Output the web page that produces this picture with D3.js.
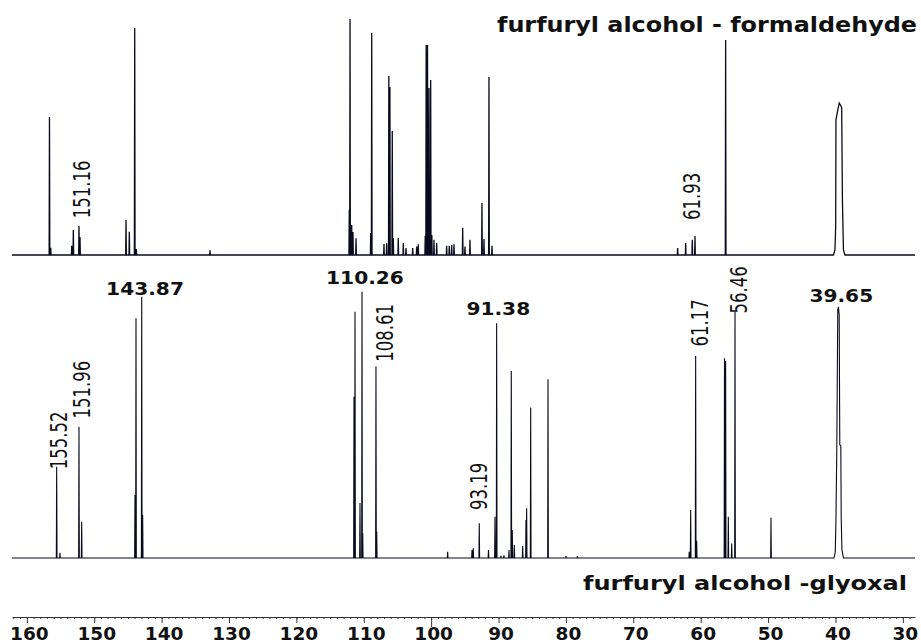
<!DOCTYPE html>
<html><head><meta charset="utf-8">
<script src="https://cdn.jsdelivr.net/npm/d3@7"></script>
<style>html,body{margin:0;padding:0;background:#fff;} svg{display:block;}</style>
</head><body>
<svg id="chart" width="921" height="644"></svg>
<script>
// ---------------- data ----------------
const ppmDomain = [162.2, 28.2];
const ppmTicks = [160, 150, 140, 130, 120, 110, 100, 90, 80, 70, 60, 50, 40, 30];

const topTitle = "furfuryl alcohol - formaldehyde";
const bottomTitle = "furfuryl alcohol -glyoxal";

// [ppm, relative intensity] — furfuryl alcohol - formaldehyde
const formaldehydePeaks = [
  [156.64, 57.5], [156.45, 3], [153.34, 3.8], [153.10, 10.4], [152.26, 12.1], [152.11, 7.5],
  [145.28, 14.6], [144.79, 9.7], [143.99, 94.6], [143.75, 2.5], [132.82, 2],
  [112.15, 18.8], [112.04, 98.3], [111.79, 12.5], [111.60, 9.6], [111.15, 7],
  [108.97, 9.2], [108.82, 92.5], [107.00, 4.6], [106.60, 4.9], [106.28, 74.6], [106.12, 70],
  [105.77, 51.7], [105.62, 7.1], [104.88, 7.1], [104.13, 5], [103.73, 2.9], [102.74, 2.9],
  [102.15, 3.5], [101.91, 4.5],
  [100.88, 8], [100.74, 87.5], [100.54, 87.5], [100.32, 69.6], [100.07, 72.9], [99.90, 8.3],
  [99.58, 6.3], [99.18, 5],
  [97.70, 3.8], [97.31, 3.8], [96.95, 4.2], [96.61, 4.5], [95.32, 11.3], [94.98, 3.5],
  [94.24, 6.3], [92.46, 21.7], [92.16, 6.7], [91.42, 74.2], [90.97, 3.8],
  [63.42, 2.9], [62.23, 5], [61.25, 6.3], [60.85, 7.9], [56.30, 89.6]
];
// outline of the broad solvent peak
const formaldehydeBroad = [
  [40.30, 0], [40.08, 2.1], [39.97, 11.7], [39.93, 56.3], [39.74, 59.2], [39.44, 63.3],
  [39.19, 62.1], [39.08, 61.3], [38.97, 22.9], [38.82, 2.1], [38.59, 0]
];

// [ppm, relative intensity] — furfuryl alcohol - glyoxal
const glyoxalPeaks = [
  [155.57, 33.8], [155.08, 1.9], [152.26, 48.6], [151.86, 13.4],
  [143.95, 23.3], [143.80, 88.8], [142.95, 96.8], [142.81, 15.9],
  [111.45, 59.7], [111.30, 91.2], [110.56, 20.4], [110.26, 98.6], [110.16, 9.3],
  [108.19, 70.9], [108.08, 9.7],
  [97.55, 2.3], [93.94, 3], [93.75, 3.6], [92.86, 12.9], [91.49, 3], [90.53, 15.3],
  [90.28, 86.9], [89.64, 0.8], [89.20, 1], [88.45, 3], [88.11, 69.3], [87.96, 10.4],
  [87.66, 4.8], [86.42, 4.4], [85.93, 14.1], [85.83, 18.4], [85.23, 55.7], [82.66, 66.2],
  [80.00, 0.7], [78.30, 0.7],
  [61.70, 2.3], [61.49, 17.8], [60.75, 74.8], [60.60, 6.4], [56.47, 74], [56.30, 73],
  [55.90, 15.3], [55.40, 5.4], [54.91, 91.2], [49.57, 14.9]
];
const glyoxalBroad = [
  [40.22, 0], [40.03, 2.2], [39.93, 14.1], [39.81, 39.3], [39.66, 91.9], [39.56, 93],
  [39.45, 90], [39.36, 41.9], [39.21, 41.5], [39.15, 14.8], [39.04, 3], [38.82, 0]
];

// peak labels: text, anchor ppm, anchor level (relative intensity)
const formaldehydeLabels = [
  { text: "151.16", at: 151.86, level: 15.3 },
  { text: "61.93", at: 61.34, level: 14.6 }
];
const glyoxalVerticalLabels = [
  { text: "155.52", at: 155.33, level: 32.9 },
  { text: "151.96", at: 151.92, level: 51.7 },
  { text: "108.61", at: 106.97, level: 72.7 },
  { text: "93.19", at: 93.01, level: 17.8 },
  { text: "61.17", at: 60.11, level: 78.3 },
  { text: "56.46", at: 54.42, level: 90.6 }
];
const glyoxalHorizontalLabels = [
  { text: "143.87", at: 142.46, level: 97.4 },
  { text: "110.26", at: 109.82, level: 101.5 },
  { text: "91.38", at: 90.04, level: 90 },
  { text: "39.65", at: 39.14, level: 94.9 }
];

// ---------------- drawing ----------------
const svg = d3.select("#chart");
const FONT = "'DejaVu Sans', Verdana, sans-serif";

const x = d3.scaleLinear().domain(ppmDomain).range([12, 915]);
const yTop = d3.scaleLinear().domain([0, 100]).range([255, 15]);
const yBot = d3.scaleLinear().domain([0, 100]).range([558, 288]);

const HW = 0.05; // half width of a sharp line in ppm

function tracePoints(peaks, broad) {
  const pts = [[ppmDomain[0], 0], [ppmDomain[1], 0]];
  peaks.forEach(([p, h]) => { pts.push([p + HW, 0], [p, h], [p - HW, 0]); });
  broad.forEach(d => pts.push(d));
  pts.sort((a, b) => b[0] - a[0]);
  return pts;
}

function drawTrace(peaks, broad, y, width) {
  const line = d3.line().x(d => x(d[0])).y(d => y(d[1]));
  svg.append("path")
    .datum(tracePoints(peaks, broad))
    .attr("d", line)
    .attr("fill", "none")
    .attr("stroke", "#0a0a1e")
    .attr("stroke-width", width)
    .attr("stroke-linejoin", "miter");
}

drawTrace(formaldehydePeaks, formaldehydeBroad, yTop, 1.3);
drawTrace(glyoxalPeaks, glyoxalBroad, yBot, 1.1);

// vertical (rotated) labels
function vLabels(data, y) {
  svg.append("g").selectAll("text").data(data).join("text")
    .attr("transform", d => `translate(${x(d.at)},${y(d.level)}) scale(1.4,1) rotate(-90)`)
    .attr("dy", "0.36em")
    .attr("text-anchor", "start")
    .attr("font-family", FONT)
    .attr("font-size", 16.5)
    .attr("fill", "#111")
    .text(d => d.text);
}
vLabels(formaldehydeLabels, yTop);
vLabels(glyoxalVerticalLabels, yBot);

svg.append("g").selectAll("text").data(glyoxalHorizontalLabels).join("text")
  .attr("transform", d => `translate(${x(d.at)},${yBot(d.level)}) scale(1.12,1)`)
  .attr("text-anchor", "middle")
  .attr("font-family", FONT)
  .attr("font-weight", "bold")
  .attr("font-size", 18)
  .attr("fill", "#111")
  .text(d => d.text);

// titles
svg.append("text")
  .attr("x", 497).attr("y", 32)
  .attr("font-family", FONT).attr("font-weight", "bold").attr("font-size", 21)
  .attr("textLength", 420).attr("lengthAdjust", "spacingAndGlyphs")
  .attr("fill", "#111")
  .text(topTitle);
svg.append("text")
  .attr("x", 583).attr("y", 590)
  .attr("font-family", FONT).attr("font-weight", "bold").attr("font-size", 19.5)
  .attr("textLength", 324).attr("lengthAdjust", "spacingAndGlyphs")
  .attr("fill", "#111")
  .text(bottomTitle);

// axis
const minor = svg.append("g").attr("transform", "translate(0,617)")
  .call(d3.axisBottom(x).tickValues(d3.range(29, 163, 1)).tickSize(2).tickSizeOuter(0).tickFormat(""));
minor.select(".domain").attr("stroke", "#333");
minor.selectAll(".tick line").attr("stroke", "#333");

const major = svg.append("g").attr("transform", "translate(0,617)")
  .call(d3.axisBottom(x).tickValues(ppmTicks).tickSize(6).tickSizeOuter(0));
major.select(".domain").remove();
major.selectAll(".tick line").attr("stroke", "#333").attr("y2", d => d === 100 ? 10 : 6);
major.selectAll(".tick text")
  .attr("y", 22.5).attr("dy", null).attr("dx", 2)
  .attr("font-family", FONT).attr("font-weight", "bold").attr("font-size", 18.5)
  .attr("fill", "#111");
major.attr("font-family", null).attr("font-size", null);
</script>
</body></html>
